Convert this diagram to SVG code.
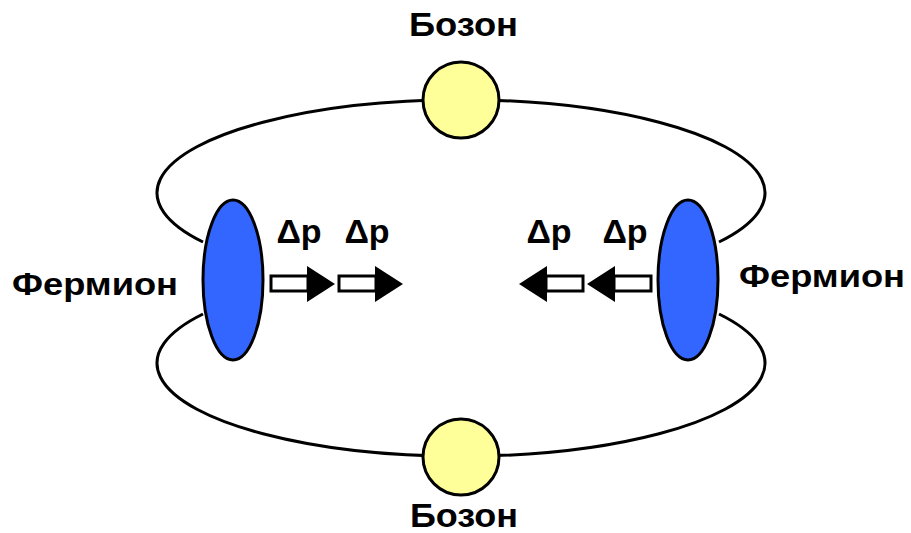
<svg xmlns="http://www.w3.org/2000/svg" width="911" height="533" viewBox="0 0 911 533">
  <style>
    .loop { fill: none; stroke: #000; stroke-width: 3; }
    .boson { fill: #ffff99; stroke: #000; stroke-width: 3; }
    .fermion { fill: #3366ff; stroke: #000; stroke-width: 3; }
    .shaft { fill: #fff; stroke: #000; stroke-width: 3; }
    .head { fill: #000; }
    .lbl { font-family: "Liberation Sans", Arial, sans-serif; font-weight: bold; fill: #000; }
  </style>

  <!-- exchange loops -->
  <g id="connectors">
    <path class="loop" d="M 203 242 A 304 93 0 1 1 719 242"/>
    <path class="loop" d="M 203 314 A 304 93 0 1 0 719 314"/>
  </g>

  <g id="boson-top">
    <circle class="boson" cx="461" cy="100" r="38"/>
    <text class="lbl" x="409" y="36" font-size="33" textLength="109" lengthAdjust="spacingAndGlyphs">Бозон</text>
  </g>

  <g id="boson-bottom">
    <circle class="boson" cx="461" cy="457" r="38"/>
    <text class="lbl" x="410" y="527" font-size="33" textLength="108" lengthAdjust="spacingAndGlyphs">Бозон</text>
  </g>

  <g id="fermion-left">
    <ellipse class="fermion" cx="233" cy="280" rx="30" ry="80"/>
    <text class="lbl" x="12" y="295" font-size="32" textLength="166" lengthAdjust="spacingAndGlyphs">Фермион</text>
  </g>

  <g id="fermion-right">
    <ellipse class="fermion" cx="688" cy="280" rx="30" ry="80"/>
    <text class="lbl" x="739" y="287" font-size="32" textLength="166" lengthAdjust="spacingAndGlyphs">Фермион</text>
  </g>

  <!-- momentum transfer arrows -->
  <g id="dp-left-1">
    <rect class="shaft" x="271" y="276" width="37" height="15"/>
    <polygon class="head" points="307,266 335,284 307,302"/>
    <text class="lbl" x="299" y="243" font-size="34" text-anchor="middle">Δp</text>
  </g>
  <g id="dp-left-2">
    <rect class="shaft" x="339" y="276" width="37" height="15"/>
    <polygon class="head" points="375,266 403,284 375,302"/>
    <text class="lbl" x="367" y="243" font-size="34" text-anchor="middle">Δp</text>
  </g>
  <g id="dp-right-1">
    <rect class="shaft" x="546" y="276" width="37" height="15"/>
    <polygon class="head" points="547,266 519,284 547,302"/>
    <text class="lbl" x="549" y="243" font-size="34" text-anchor="middle">Δp</text>
  </g>
  <g id="dp-right-2">
    <rect class="shaft" x="614" y="276" width="37" height="15"/>
    <polygon class="head" points="615,266 587,284 615,302"/>
    <text class="lbl" x="625" y="243" font-size="34" text-anchor="middle">Δp</text>
  </g>
</svg>
